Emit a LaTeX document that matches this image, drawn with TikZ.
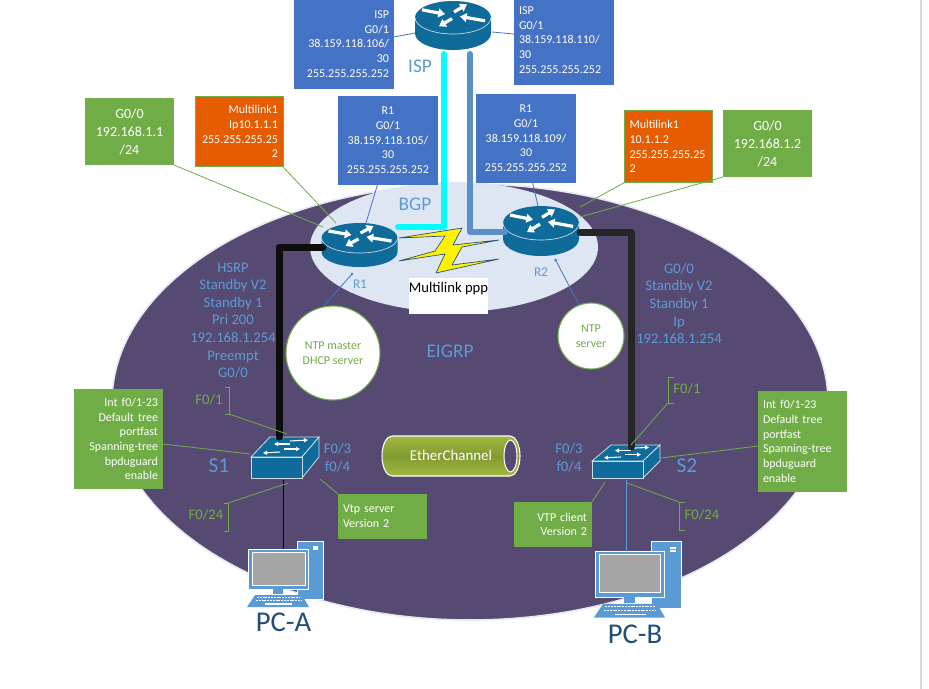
\documentclass[tikz,border=0pt]{standalone}
\usepackage{fontspec}
\setmainfont{Carlito}
\usetikzlibrary{arrows.meta,shapes.geometric}

\definecolor{zonepurple}{HTML}{564A73}
\definecolor{zonerim}{HTML}{E8E6F0}
\definecolor{bgpfill}{HTML}{DFE6F3}
\definecolor{boxblue}{HTML}{4472C4}
\definecolor{boxgreen}{HTML}{70AD47}
\definecolor{boxorange}{HTML}{E65C00}
\definecolor{labelblue}{HTML}{5B9BD5}
\definecolor{deviceblue}{HTML}{0F6B9A}
\definecolor{rimblue}{HTML}{CFDCE8}
\definecolor{pcblue}{HTML}{5B9BD5}
\definecolor{screengray}{HTML}{A5A5A5}
\definecolor{pctext}{HTML}{1F4E79}
\definecolor{wirecyan}{HTML}{00FFFF}
\definecolor{wireblue}{HTML}{5B8FC8}
\definecolor{boltyellow}{HTML}{FFF200}
\definecolor{tubelight}{HTML}{A0B93C}
\definecolor{tubedark}{HTML}{829A32}

% name, x, y, radius of the lid, height of the body
\newcommand{\routericon}[5]{%
  \begin{scope}[shift={(#2,#3)}]
    \fill[deviceblue] (-38,0) -- (-38,#5) arc[start angle=180,end angle=0,x radius=38,y radius=#4] -- (38,0) -- cycle;
    \fill[deviceblue] (0,0) ellipse [x radius=38,y radius=#4];
    \draw[rimblue,line width=0.5pt] (-38,0) arc[start angle=180,end angle=0,x radius=38,y radius=#4];
    \node[inner sep=0,minimum width=57pt,minimum height=30pt] (#1) at (0,8) {};
    \begin{scope}[yscale=#4/15]
      \draw[routerarrow] (-31,-7) -- (-8,-3);
      \draw[routerarrow] (1,-5) -- (14,-12);
      \draw[routerarrow] (32,3) -- (7,-1);
      \draw[routerarrow] (-1,1) -- (-14,8);
    \end{scope}
  \end{scope}}

% name, x, y, front height, depth of the top
\newcommand{\switchicon}[5]{%
  \begin{scope}[shift={(#2,#3)}]
    \filldraw[deviceblue,draw=rimblue,line width=0.6pt] (0,0) -- (19,-#5) -- (68,-#5) -- (51,0) -- cycle;
    \filldraw[deviceblue,draw=rimblue,line width=0.6pt] (51,0) -- (68,-#5) -- (68,{#4-#5-1}) -- (51,#4) -- cycle;
    \filldraw[deviceblue,draw=rimblue,line width=0.6pt] (0,0) rectangle (51,#4);
    \node[inner sep=0,minimum width=38pt,minimum height=15pt] (#1) at (25,{#4/2}) {};
    \begin{scope}[yscale=#5/20]
      \draw[switcharrow,<-] (23,-13) -- (39,-13);
      \draw[switcharrow,->] (39,-16) -- (57,-17);
      \draw[switcharrow,<-] (12,-4) -- (29,-5);
      \draw[switcharrow,->] (33,-8) -- (49,-8);
    \end{scope}
  \end{scope}}

% name, x, y, scale
\newcommand{\pcicon}[4]{%
  \begin{scope}[shift={(#2,#3)},scale=#4]
    \draw[white,fill=pcblue,line width=0.6pt] (49,-8) rectangle (75,50);
    \fill[white] (65,-3.5) rectangle (70,-1.5);
    \fill[white] (65,-1) rectangle (70,1);
    \draw[white,fill=pcblue,line width=0.6pt] (0,0) rectangle (60,40);
    \draw[white,fill=screengray,line width=0.6pt] (4,3) rectangle (57,36);
    \fill[pcblue] (25,40) rectangle (35,45);
    \fill[pcblue] (7,46) -- (54,46) -- (61,58) -- (-1,58) -- cycle;
    \draw[white,line width=0.9pt,dash pattern=on 1.5pt off 0.6pt] (9,48.5) -- (52,48.5);
    \draw[white,line width=0.9pt,dash pattern=on 1.5pt off 0.6pt] (8,51.5) -- (53,51.5);
    \draw[white,line width=1pt] (17,55) -- (44,55);
    \node[inner sep=0,minimum width=40pt,minimum height=28pt] (#1) at (30,20) {};
  \end{scope}}

\begin{document}
\begin{tikzpicture}
  [x=0.75pt,y=-0.75pt,
   routerarrow/.style={white,line width=2.4pt,-{Triangle[length=5pt,width=6.5pt]}},
   switcharrow/.style={white,line width=0.8pt,>={Triangle[length=3pt,width=3pt]}},
   infobox/.style={rectangle,text=white,outer sep=0,inner xsep=3.75pt,inner ysep=0,
                   font=\fontsize{9}{11}\selectfont},
   bluebox/.style={infobox,fill=boxblue,text width=67.5pt,minimum height=67pt},
   greenbox/.style={infobox,fill=boxgreen,text width=59.25pt},
   orangebox/.style={infobox,fill=boxorange,draw=boxgreen,line width=0.75pt,text width=58.5pt},
   addrbox/.style={greenbox,align=center,minimum height=50.25pt,font=\fontsize{10.5}{13.5}\selectfont},
   ntpcircle/.style={circle,draw=boxgreen,fill=white,line width=0.8pt,inner sep=0,align=center,
                     text=boxgreen,font=\fontsize{9}{11}\selectfont},
   stacklabel/.style={align=center,inner sep=0,text=labelblue,font=\fontsize{11}{13.2}\selectfont},
   portlabel/.style={align=center,inner sep=0,text=boxgreen,font=\fontsize{11}{13.2}\selectfont},
   zonelabel/.style={inner sep=0,text=labelblue,font=\fontsize{14.5}{16}\selectfont},
   pclabel/.style={inner sep=0,text=pctext,font=\fontsize{21.5}{23}\selectfont},
   greenline/.style={draw=boxgreen,line width=0.6pt},
   blueline/.style={draw=boxblue,line width=0.6pt},
   dotline/.style={blueline,{Circle[length=2pt,fill=white]}-},
   wire/.style={line width=4.5pt,line cap=round,line join=round},
   heavywire/.style={wire,line width=5.25pt}]
  \useasboundingbox (0,0) rectangle (929,689);
  \fill[white] (0,0) rectangle (929,689);
  \draw[gray!30,line width=0.8pt] (921,0) -- (921,689);

  \node[ellipse,draw=zonerim,fill=zonepurple,line width=1.2pt,inner sep=0,
        minimum width=537pt,minimum height=327pt] (eigrp) at (470,402) {};
  \node[ellipse,fill=bgpfill,inner sep=0,minimum width=216pt,minimum height=97.5pt] (bgp) at (454,247) {};

  % boxes along the top
  \node[bluebox,align=right] (ispl) at (344,44) {ISP\\G0/1\\38.159.118.106/\\30\\255.255.255.252};
  \node[bluebox,align=left] (ispr) at (564,40) {ISP\\G0/1\\38.159.118.110/\\30\\255.255.255.252};
  \node[bluebox,align=center] (rl) at (388,140.5) {R1\\G0/1\\38.159.118.105/\\30\\255.255.255.252};
  \node[bluebox,align=center] (rr) at (526,138.5) {R1\\G0/1\\38.159.118.109/\\30\\255.255.255.252};
  \node[addrbox] (gl) at (129.5,131.5) {G0/0\\192.168.1.1\\/24};
  \node[addrbox] (gr) at (767.5,143.5) {G0/0\\192.168.1.2\\/24};
  \node[orangebox,align=right,minimum height=53pt] (ol) at (239,131.5) {Multilink1\\Ip10.1.1.1\\255.255.255.25\\2};
  \node[orangebox,align=left,minimum height=54pt] (or) at (668.5,146.5) {Multilink1\\10.1.1.2\\255.255.255.25\\2};

  % boxes around the switches
  \node[greenbox,align=right,minimum height=75pt] (intl) at (118.5,439) {Int f0/1-23\\Default tree\\portfast\\Spanning-tree\\bpduguard\\enable};
  \node[greenbox,align=left,minimum height=75.75pt] (intr) at (802.5,441.5) {Int f0/1-23\\Default tree\\portfast\\Spanning-tree\\bpduguard\\enable};
  \node[greenbox,align=left,minimum height=33.75pt] (vtps) at (382.5,516.5) {Vtp server\\Version 2};
  \node[greenbox,align=right,text width=51pt,minimum height=33.75pt] (vtpc) at (553,524.5) {VTP client\\Version 2};

  \node[ntpcircle,minimum size=70.5pt] (ntpm) at (333,353) {NTP master\\DHCP server};
  \node[ntpcircle,minimum size=49.5pt] (ntps) at (591,336) {NTP\\server};

  % the lightning between both routers
  \draw[fill=boltyellow,draw=pctext,line width=0.5pt,line join=bevel]
    (399,238) -- (462,228) -- (453,245) -- (499,240) -- (462,247) -- (452,265) -- (499,259)
    -- (436,273) -- (445,254) -- (399,261) -- (435,251) -- (445,236) -- cycle;
  \node[rectangle,fill=white,inner sep=0,minimum width=59.25pt,minimum height=27pt,align=center,
        font=\fontsize{11}{13.2}\selectfont] (mlppp) at (448.5,296) {Multilink ppp\\ \mbox{}};

  \routericon{isp}{453}{17.5}{16.5}{16}
  \routericon{rone}{359.5}{238}{15}{14}
  \routericon{rtwo}{541}{223}{17}{16}
  \switchicon{sone}{251}{457}{21}{20}
  \switchicon{stwo}{592}{461}{17}{16}

  \coordinate (ispcyan) at (444,54);
  \coordinate (ronecyan) at (398,227);
  \coordinate (ispblue) at (470,54);
  \coordinate (rtwoblue) at (505,232);
  \coordinate (roneblack) at (323,247);
  \coordinate (soneblack) at (279,437);
  \coordinate (rtwoblack) at (580,232);
  \coordinate (stwoblack) at (631,447);
  \draw[wire,wirecyan] (ispcyan) |- (ronecyan);
  \draw[wire,wireblue] (ispblue) |- (rtwoblue);
  \draw[heavywire,black!95] (roneblack) -| (soneblack);
  \draw[heavywire,black!85] (rtwoblack) -| (stwoblack);

  \coordinate (sonedown) at (283,480);
  \coordinate (pcatop) at (283,549);
  \coordinate (stwodown) at (626,480);
  \coordinate (pcbtop) at (626,552);
  \draw[black,line width=0.7pt] (sonedown) -- (pcatop);
  \draw[labelblue,line width=0.7pt] (stwodown) -- (pcbtop);
  \pcicon{pca}{248}{549}{1}
  \pcicon{pcb}{595}{551}{1.15}

  \coordinate (glend) at (323,227);
  \coordinate (olend) at (336,223);
  \coordinate (orend) at (580,207);
  \coordinate (grend) at (580,217);
  \coordinate (rlend) at (366,223);
  \coordinate (rrend) at (538,206);
  \coordinate (isplend) at (415,33);
  \coordinate (isprend) at (492,32);
  \draw[greenline] (gl.south east) -- (glend);
  \draw[greenline] (ol.south east) -- (olend);
  \draw[greenline] (or.south west) -- (orend);
  \draw[greenline] (gr.south west) -- (grend);
  \draw[blueline] ([xshift=-8pt]rl.south) -- (rlend);
  \draw[blueline] ([xshift=5pt]rr.south) -- (rrend);
  \draw[blueline] (isplend) -- (ispl.east |- 0,37);
  \draw[blueline] (isprend) -- (ispr.west |- 0,34);

  \coordinate (rdotl) at (353,273);
  \coordinate (rdotr) at (555,259);
  \draw[dotline] (rdotl) -- (ntpm.102);
  \draw[dotline] (rdotr) -- (ntps.111);

  \coordinate (intlend) at (250,454);
  \coordinate (intrend) at (661,458);
  \coordinate (vtpsend) at (320,479);
  \coordinate (vtpcend) at (605,482);
  \draw[greenline] (intl.east |- 0,444) -- (intlend);
  \draw[greenline] (intr.west |- 0,446) -- (intrend);
  \draw[greenline] (vtps.north west) -- (vtpsend);
  \draw[greenline] (vtpc.north east) -- (vtpcend);

  % port brackets
  \coordinate (fonel) at (229,414);
  \coordinate (fonelend) at (287,434);
  \coordinate (ftwol) at (228,503);
  \coordinate (ftwolend) at (288,483);
  \coordinate (foner) at (668,403);
  \coordinate (fonerend) at (631,445);
  \coordinate (ftwor) at (679,502);
  \coordinate (ftworend) at (627,483);
  \draw[greenline] (225,387) -- (229,387) -- (fonel) -- (225,414);
  \draw[greenline] (fonel) -- (fonelend);
  \draw[greenline] (224,531) -- (228,531) -- (ftwol) -- (224,503);
  \draw[greenline] (ftwol) -- (ftwolend);
  \draw[greenline] (674,377) -- (668,377) -- (foner) -- (674,403);
  \draw[greenline] (foner) -- (fonerend);
  \draw[greenline] (685,530) -- (679,530) -- (ftwor) -- (685,502);
  \draw[greenline] (ftwor) -- (ftworend);

  \node[portlabel] (fonea) at (209,400) {F0/1};
  \node[portlabel] (ftwoa) at (206,515) {F0/24};
  \node[portlabel] (foneb) at (687,389) {F0/1};
  \node[portlabel] (ftwob) at (702,515) {F0/24};

  \node[stacklabel] (hsrp) at (233,320.5) {HSRP\\Standby V2\\Standby 1\\Pri 200\\192.168.1.254\\Preempt\\G0/0};
  \node[stacklabel] (stby) at (679,303.5) {G0/0\\Standby V2\\Standby 1\\Ip\\192.168.1.254};
  \node[stacklabel] (chla) at (337.5,458) {F0/3\\f0/4};
  \node[stacklabel] (chlb) at (569,458) {F0/3\\f0/4};
  \node[stacklabel,font=\fontsize{10}{12}\selectfont] (ronelabel) at (360,284) {R1};
  \node[stacklabel,font=\fontsize{10}{12}\selectfont] (rtwolabel) at (541,272) {R2};

  \node[zonelabel] (isplabel) at (420,66) {ISP};
  \node[zonelabel] (bgplabel) at (415,204) {BGP};
  \node[zonelabel] (eigrplabel) at (450,351) {EIGRP};
  \node[zonelabel,font=\fontsize{16}{18}\selectfont] (sonelabel) at (219,466) {S1};
  \node[zonelabel,font=\fontsize{16}{18}\selectfont] (stwolabel) at (687,466) {S2};
  \node[pclabel] (pcalabel) at (283.5,622) {PC-A};
  \node[pclabel] (pcblabel) at (635,634) {PC-B};

  % the tube
  \shade[top color=tubelight,bottom color=tubelight,middle color=tubedark,
         draw=white,line width=0.8pt]
    (392,436) -- (510,436) arc[start angle=-90,end angle=90,x radius=10,y radius=20]
    -- (392,476) arc[start angle=90,end angle=270,x radius=10,y radius=20] -- cycle;
  \draw[white,fill=zonepurple,line width=0.8pt] (510.5,456) ellipse [x radius=6.5,y radius=16];
  \node[inner sep=0,text=white,font=\fontsize{11.2}{13}\selectfont] (ether) at (451,455) {EtherChannel};
\end{tikzpicture}
\end{document}
